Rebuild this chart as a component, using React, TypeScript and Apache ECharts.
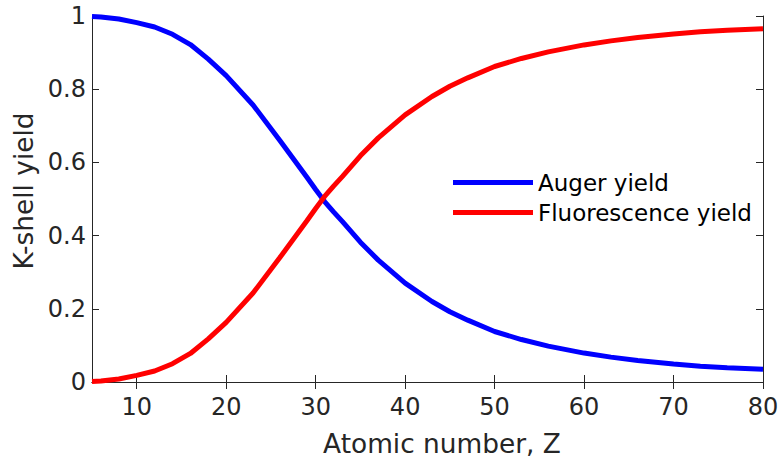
import React, { useEffect, useRef } from "react";
import * as echarts from "echarts";

const atomicNumbers = [5, 6, 8, 10, 12, 14, 16, 18, 20, 23, 26, 29, 30, 31, 32, 33, 35, 37, 40, 43, 45, 47, 50, 53, 56, 60, 63, 66, 70, 73, 76, 80];
const augerYield = [0.9983, 0.9972, 0.9917, 0.982, 0.97, 0.95, 0.922, 0.882, 0.837, 0.757, 0.66, 0.56, 0.526, 0.493, 0.465, 0.438, 0.382, 0.333, 0.27, 0.22, 0.192, 0.169, 0.138, 0.116, 0.098, 0.079, 0.068, 0.059, 0.049, 0.043, 0.039, 0.035];
const fluorescenceYield = [0.0017, 0.0028, 0.0083, 0.018, 0.03, 0.05, 0.078, 0.118, 0.163, 0.243, 0.34, 0.44, 0.474, 0.507, 0.535, 0.562, 0.618, 0.667, 0.73, 0.78, 0.808, 0.831, 0.862, 0.884, 0.902, 0.921, 0.932, 0.941, 0.951, 0.957, 0.961, 0.965];
const xTicks = [10, 20, 30, 40, 50, 60, 70, 80];
const seriesNames = ["Auger yield", "Fluorescence yield"];
const xTitle = "Atomic number, Z";
const yTitle = "K-shell yield";

const FONT = "DejaVu Sans";
const AX = "#262626";

export default function App() {
  const ref = useRef<HTMLDivElement>(null);
  useEffect(() => {
    if (!ref.current) return;
    const chart = echarts.init(ref.current, undefined, { renderer: "svg" });
    const axisLine = { show: true, lineStyle: { color: AX, width: 1 } };
    const xBase = { type: "value", min: 5, max: 80, splitLine: { show: false } };
    const yBase = { type: "value", min: 0, max: 1, interval: 0.2, splitLine: { show: false } };
    chart.setOption({
      animation: false,
      backgroundColor: "#ffffff",
      textStyle: { fontFamily: FONT },
      grid: { left: 92, right: 20, top: 16, bottom: 80, containLabel: false },
      legend: {
        orient: "vertical",
        left: 453,
        top: 171,
        padding: 0,
        itemWidth: 80,
        itemHeight: 5,
        itemGap: 7,
        icon: "rect",
        data: seriesNames,
        textStyle: { fontFamily: FONT, fontSize: 23, color: "#000", lineHeight: 22 },
      },
      xAxis: [
        {
          ...xBase,
          position: "bottom",
          name: xTitle,
          nameLocation: "middle",
          nameGap: 48,
          nameTextStyle: { fontFamily: FONT, fontSize: 26.4, color: AX, padding: [0, 0, 0, 29] },
          axisLine,
          axisTick: { show: true, inside: true, length: 7, customValues: xTicks, lineStyle: { color: AX } },
          axisLabel: { show: true, customValues: xTicks, margin: 13, fontFamily: FONT, fontSize: 24, color: AX },
        },
        {
          ...xBase,
          position: "top",
          axisLine,
          axisTick: { show: true, inside: true, length: 7, customValues: xTicks, lineStyle: { color: AX } },
          axisLabel: { show: false },
        },
      ],
      yAxis: [
        {
          ...yBase,
          position: "left",
          name: yTitle,
          nameLocation: "middle",
          nameGap: 52,
          nameTextStyle: { fontFamily: FONT, fontSize: 26.4, color: AX, padding: [0, 0, 0, 16] },
          axisLine,
          axisTick: { show: true, inside: true, length: 7, lineStyle: { color: AX } },
          axisLabel: { show: true, margin: 6, fontFamily: FONT, fontSize: 24, color: AX },
        },
        {
          ...yBase,
          position: "right",
          axisLine,
          axisTick: { show: true, inside: true, length: 7, lineStyle: { color: AX } },
          axisLabel: { show: false },
        },
      ],
      series: [
        {
          name: seriesNames[0],
          type: "line",
          xAxisIndex: 0,
          yAxisIndex: 0,
          data: atomicNumbers.map((z, i) => [z, augerYield[i]]),
          showSymbol: false,
          clip: false,
          color: "#0000ff",
          lineStyle: { color: "#0000ff", width: 5 },
          z: 3,
        },
        {
          name: seriesNames[1],
          type: "line",
          xAxisIndex: 0,
          yAxisIndex: 0,
          data: atomicNumbers.map((z, i) => [z, fluorescenceYield[i]]),
          showSymbol: false,
          clip: false,
          color: "#ff0000",
          lineStyle: { color: "#ff0000", width: 5 },
          z: 4,
        },
      ],
    });
    return () => chart.dispose();
  }, []);
  return (
    <div
      ref={ref}
      style={{ position: "fixed", left: 0, top: 0, width: 783, height: 462, background: "#fff" }}
    />
  );
}
